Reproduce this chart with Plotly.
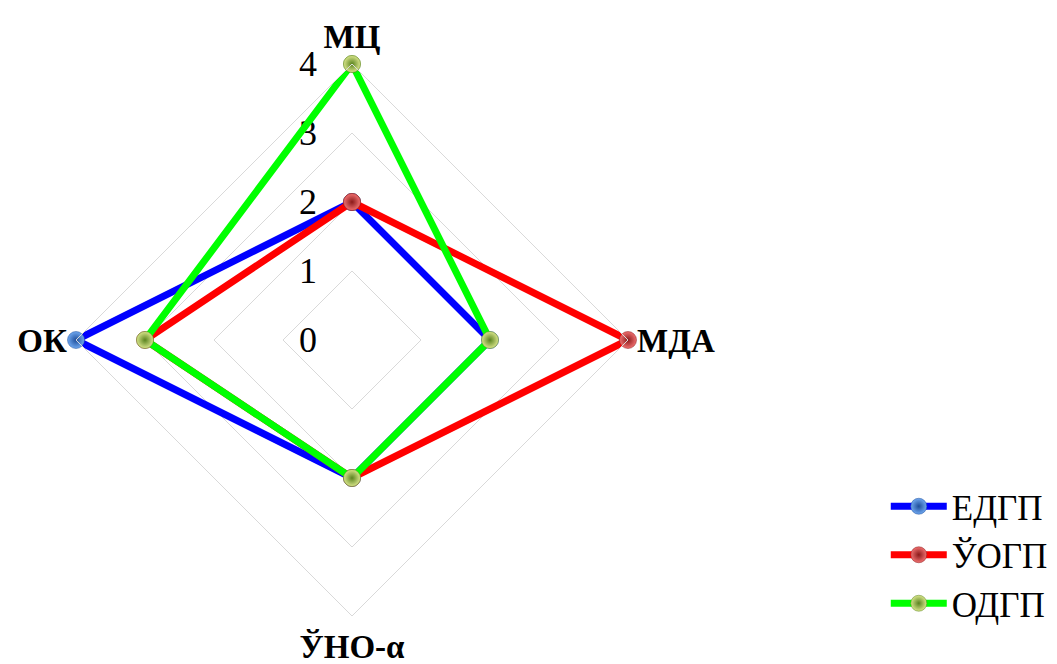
import plotly.graph_objects as go

# Axes of the radar chart (clockwise from the top)
categories = ["МЦ", "МДА", "ЎНО-α", "ОК"]

# Scores for each group
series_names = ["ЕДГП", "ЎОГП", "ОДГП"]
edgp = [2, 2, 2, 4]
yogp = [2, 4, 2, 3]
odgp = [4, 2, 2, 3]

radial_ticks = [0, 1, 2, 3, 4]

line_colors = ["#0000FF", "#FF0000", "#00FF00"]
marker_colors = ["#6FA8F0", "#F07070", "#D8E48A"]
marker_edges = ["#1F4E9A", "#8B1A1A", "#5A8420"]

SERIF = "Liberation Serif, Times New Roman, serif"

fig = go.Figure()

for name, vals, lc, mc, me in zip(series_names, [edgp, yogp, odgp],
                                  line_colors, marker_colors, marker_edges):
    fig.add_trace(go.Scatterpolar(
        r=vals + vals[:1],
        theta=categories + categories[:1],
        mode="lines+markers",
        name=name,
        line=dict(color=lc, width=7),
        marker=dict(size=17, color=mc,
                    gradient=dict(type="radial", color=me),
                    line=dict(width=0.5, color=me)),
        cliponaxis=False,
    ))

W, H = 1057, 664
cx, cy, R = 352, 340, 276

fig.update_layout(
    width=W, height=H,
    margin=dict(l=0, r=0, t=0, b=0),
    paper_bgcolor="white",
    plot_bgcolor="white",
    font=dict(family=SERIF, color="black"),
    polar=dict(
        domain=dict(x=[(cx - R) / W, (cx + R) / W],
                    y=[1 - (cy + R) / H, 1 - (cy - R) / H]),
        gridshape="linear",
        bgcolor="white",
        radialaxis=dict(
            range=[0, 4], tickvals=radial_ticks, angle=90,
            side="counterclockwise", tickangle=90,
            showline=False, ticks="outside", ticklen=22,
            tickcolor="rgba(0,0,0,0)",
            tickfont=dict(size=36, family=SERIF, color="black"),
            gridcolor="#D9D9D9", gridwidth=1,
            layer="below traces",
        ),
        angularaxis=dict(
            direction="clockwise", rotation=90,
            showgrid=False, showline=True, linecolor="#D9D9D9", linewidth=1,
            ticks="outside", ticklen=2, tickcolor="rgba(0,0,0,0)",
            tickmode="array",
            tickvals=categories,
            ticktext=[f"<b>{c}</b>" for c in categories],
            tickfont=dict(size=33, family=SERIF, color="black"),
        ),
    ),
    legend=dict(
        x=0.838, y=1 - 555 / H, xanchor="left", yanchor="middle",
        font=dict(size=35, family=SERIF, color="black"),
        bgcolor="rgba(0,0,0,0)",
        itemwidth=56,
        tracegroupgap=0,
    ),
)

fig.write_html("out.html")
